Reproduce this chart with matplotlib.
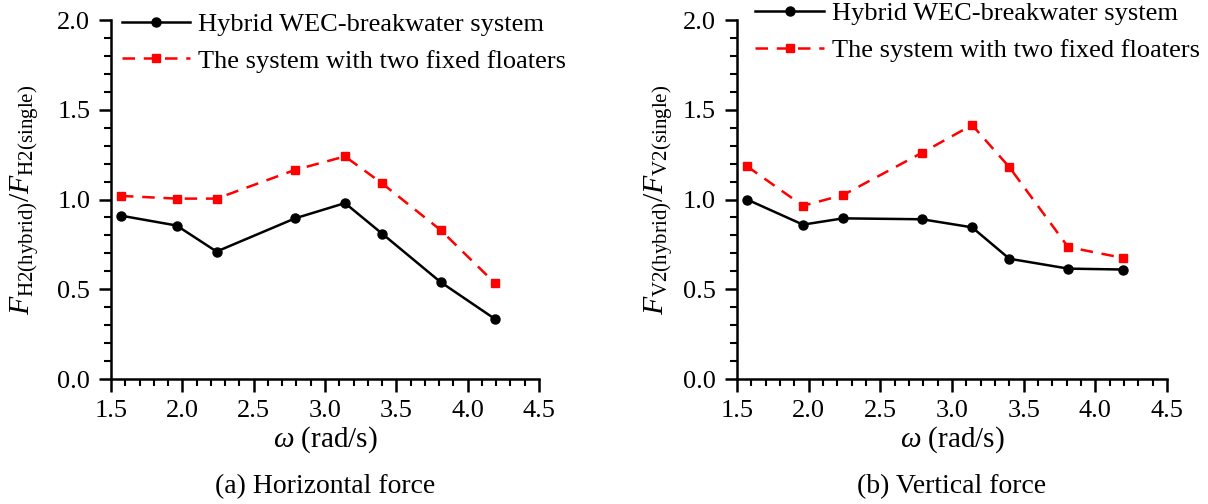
import numpy as np
import matplotlib
matplotlib.use("Agg")
from matplotlib import pyplot as plt
from matplotlib.ticker import MultipleLocator

# data
omega = [1.57, 1.96, 2.24, 2.79, 3.14, 3.40, 3.81, 4.19]
h_hybrid = [0.91, 0.855, 0.71, 0.895, 0.98, 0.81, 0.54, 0.335]
h_fixed = [1.02, 1.005, 1.005, 1.165, 1.24, 1.09, 0.83, 0.535]
v_hybrid = [1.0, 0.86, 0.895, 0.89, 0.845, 0.67, 0.615, 0.61]
v_fixed = [1.185, 0.965, 1.025, 1.26, 1.415, 1.18, 0.735, 0.675]

labels = ["Hybrid WEC-breakwater system", "The system with two fixed floaters"]
ylabels = [r"$F_{\mathrm{H2(hybrid)}}/F_{\mathrm{H2(single)}}$",
           r"$F_{\mathrm{V2(hybrid)}}/F_{\mathrm{V2(single)}}$"]
captions = ["(a) Horizontal force", "(b) Vertical force"]

plt.rcParams['font.family'] = ['Liberation Serif', 'DejaVu Serif']
plt.rcParams['mathtext.fontset'] = 'custom'
plt.rcParams['mathtext.rm'] = 'Liberation Serif'
plt.rcParams['mathtext.it'] = 'Liberation Serif:italic'

fig = plt.figure(figsize=(12.08, 5.04), dpi=100)
ax1 = fig.add_axes([0.0919, 0.248, 0.3543, 0.7123])
ax2 = fig.add_axes([0.6101, 0.248, 0.3560, 0.7123])

panels = [(ax1, h_hybrid, h_fixed), (ax2, v_hybrid, v_fixed)]
leg_anchor = [(-0.012, 1.065), (0.006, 1.095)]
ylab_pad = [12, 6]
for i, (ax, hyb, fix) in enumerate(panels):
    ax.plot(omega, hyb, color='k', lw=1.8, marker='o', ms=6.5, label=labels[0])
    ax.plot(omega, fix, color='#ff0000', lw=1.8, ls=(0, (5, 3.5)), marker='s',
            ms=6, label=labels[1])
    ax.set_xlim(1.5, 4.5)
    ax.set_ylim(0, 2.0)
    ax.xaxis.set_major_locator(MultipleLocator(0.5))
    ax.xaxis.set_minor_locator(MultipleLocator(0.1))
    ax.yaxis.set_major_locator(MultipleLocator(0.5))
    ax.yaxis.set_minor_locator(MultipleLocator(0.1))
    ax.xaxis.set_major_formatter(plt.FormatStrFormatter('%.1f'))
    ax.yaxis.set_major_formatter(plt.FormatStrFormatter('%.1f'))
    for s in ['top', 'right']:
        ax.spines[s].set_visible(False)
    for s in ['left', 'bottom']:
        ax.spines[s].set_linewidth(1.8)
    ax.tick_params(which='major', direction='out', length=9, width=1.8,
                   labelsize=19, pad=6)
    ax.tick_params(which='minor', direction='out', length=5, width=1.5)
    ax.set_xlabel(r"$\omega$ (rad/s)", fontsize=21, labelpad=2)
    ax.set_ylabel(ylabels[i], fontsize=21.5, labelpad=ylab_pad[i])
    ax.text(0.5, -0.3, captions[i], transform=ax.transAxes, ha='center',
            va='center', fontsize=20)
    ax.legend(loc='upper left', bbox_to_anchor=leg_anchor[i], frameon=False,
              fontsize=19, handlelength=2.6, handletextpad=0.3,
              labelspacing=0.5, borderaxespad=0.2)

plt.savefig("out.png", dpi=100)
